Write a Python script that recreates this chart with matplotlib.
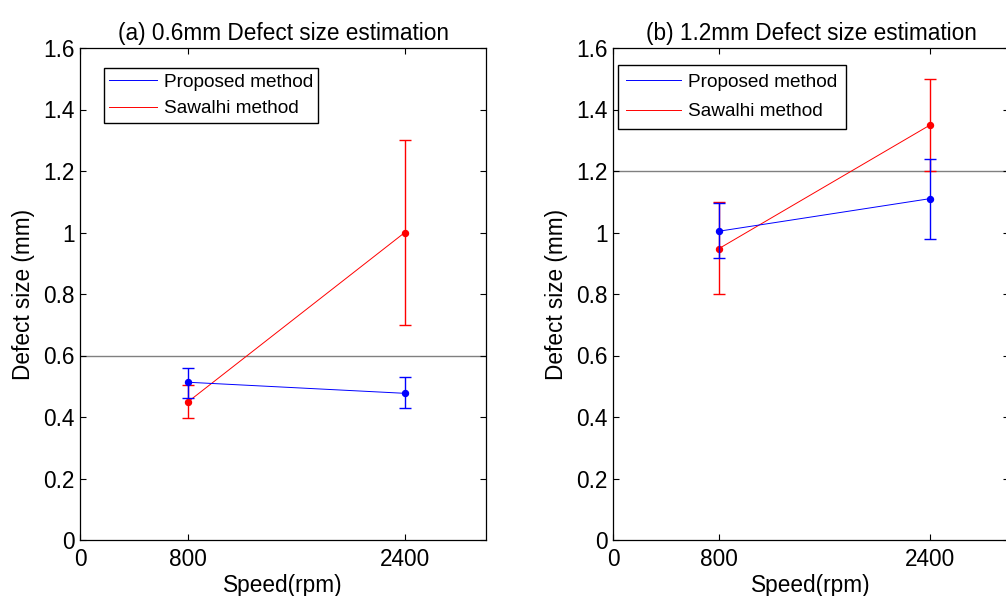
import matplotlib
matplotlib.use("Agg")
import matplotlib.pyplot as plt
from matplotlib.lines import Line2D
import numpy as np

plt.rcParams['font.family'] = ['Liberation Sans', 'DejaVu Sans']

speeds = [800, 2400]
titles = ["(a) 0.6mm Defect size estimation", "(b) 1.2mm Defect size estimation"]
true_sizes = [0.6, 1.2]

# panel (a)
prop_a = [0.513, 0.477]
prop_a_lo = [0.463, 0.430]
prop_a_hi = [0.560, 0.529]
saw_a = [0.450, 1.000]
saw_a_lo = [0.398, 0.700]
saw_a_hi = [0.504, 1.300]

# panel (b)
prop_b = [1.004, 1.110]
prop_b_lo = [0.918, 0.979]
prop_b_hi = [1.095, 1.239]
saw_b = [0.947, 1.349]
saw_b_lo = [0.799, 1.200]
saw_b_hi = [1.100, 1.499]

xticks = [0, 800, 2400]
yticks = [0, 0.2, 0.4, 0.6, 0.8, 1.0, 1.2, 1.4, 1.6]
yticklabels = ["0", "0.2", "0.4", "0.6", "0.8", "1", "1.2", "1.4", "1.6"]

W, H = 1006, 596
FS = 16.3
fig = plt.figure(figsize=(W / 100, H / 100), dpi=100)
ax1 = fig.add_axes([80 / W, 1 - 540 / H, 406 / W, 492 / H])
ax2 = fig.add_axes([613 / W, 1 - 540 / H, 396 / W, 492 / H])

panels = [
    (ax1, prop_a, prop_a_lo, prop_a_hi, saw_a, saw_a_lo, saw_a_hi),
    (ax2, prop_b, prop_b_lo, prop_b_hi, saw_b, saw_b_lo, saw_b_hi),
]

legend_cfg = [
    dict(anchor=(24 / 406, (540 - 68) / 492), handlelength=2.5, handletextpad=0.35,
         borderpad=0.28, labelspacing=0.5),
    dict(anchor=(5 / 396, (540 - 65) / 492), handlelength=2.9, handletextpad=0.37,
         borderpad=0.43, labelspacing=0.66),
]

for i, (ax, p, plo, phi, s, slo, shi) in enumerate(panels):
    ax.axhline(true_sizes[i], color='#808080', lw=1.0, zorder=1)
    p = np.array(p); s = np.array(s)
    perr = [p - np.array(plo), np.array(phi) - p]
    serr = [s - np.array(slo), np.array(shi) - s]
    ax.errorbar(speeds, s, yerr=serr, color='red', lw=0.7, elinewidth=1.0,
                capsize=4.5, capthick=1.0, marker='o', markersize=4.3,
                zorder=3)
    ax.errorbar(speeds, p, yerr=perr, color='blue', lw=0.7, elinewidth=1.0,
                capsize=4.5, capthick=1.0, marker='o', markersize=4.3,
                zorder=4)
    ax.set_xlim(0, 3000)
    ax.set_ylim(0, 1.6)
    ax.set_xticks(xticks)
    ax.set_xticklabels([str(t) for t in xticks])
    ax.set_yticks(yticks)
    ax.set_yticklabels(yticklabels)
    ax.tick_params(direction='in', top=True, right=True, labelsize=FS, length=4, width=0.8)
    ax.tick_params(axis='x', pad=6)
    ax.tick_params(axis='y', pad=4)
    for sp in ax.spines.values():
        sp.set_linewidth(0.9)
    ax.set_title(titles[i], fontsize=FS, pad=6)
    ax.set_xlabel('Speed(rpm)', fontsize=FS, labelpad=2)
    ax.set_ylabel('Defect size (mm)', fontsize=FS, labelpad=6)
    cfg = legend_cfg[i]
    hl = [Line2D([], [], color='blue', lw=0.7), Line2D([], [], color='red', lw=0.7)]
    leg = ax.legend(hl, ['Proposed method', 'Sawalhi method'], loc='upper left',
                    bbox_to_anchor=cfg['anchor'], fontsize=13.7, frameon=True,
                    fancybox=False, edgecolor='black', framealpha=1,
                    handlelength=cfg['handlelength'], borderpad=cfg['borderpad'],
                    labelspacing=cfg['labelspacing'], handletextpad=cfg['handletextpad'],
                    borderaxespad=0)
    leg.get_frame().set_linewidth(1.0)

fig.savefig('out.png', dpi=100)
